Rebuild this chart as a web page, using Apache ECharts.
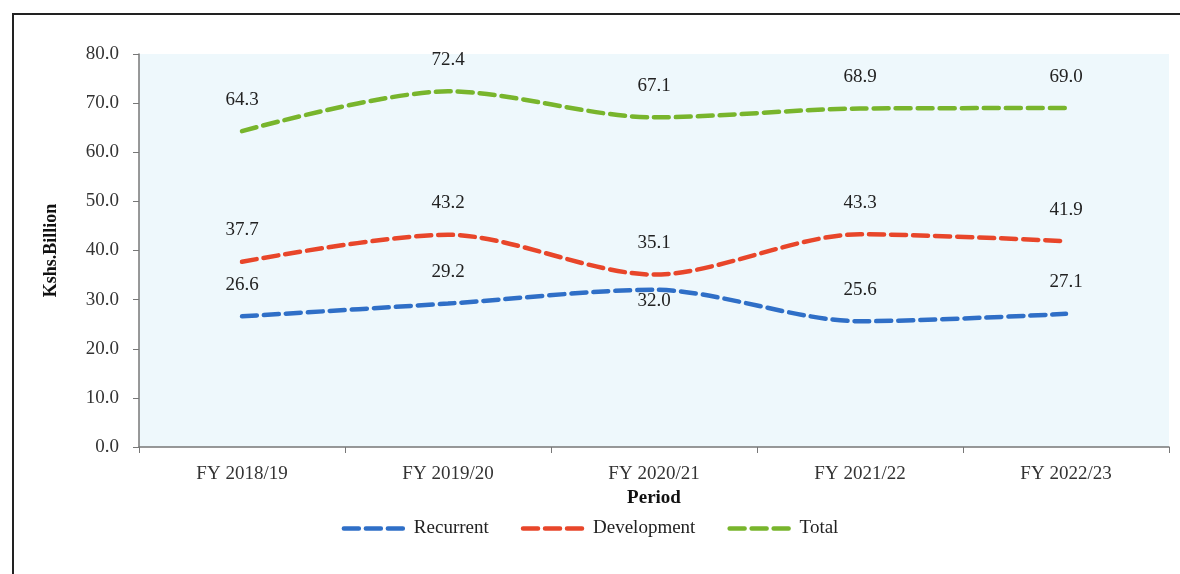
<!DOCTYPE html>
<html>
<head>
<meta charset="utf-8">
<script src="https://cdn.jsdelivr.net/npm/echarts@6/dist/echarts.min.js"></script>
<style>
  html, body { margin: 0; padding: 0; background: #fff; }
  #chart { width: 1180px; height: 574px; }
</style>
</head>
<body>
<div id="chart"></div>
<script>
var periods = ["FY 2018/19", "FY 2019/20", "FY 2020/21", "FY 2021/22", "FY 2022/23"];
var recurrent = [26.6, 29.2, 32.0, 25.6, 27.1];
var development = [37.7, 43.2, 35.1, 43.3, 41.9];
var total = [64.3, 72.4, 67.1, 68.9, 69.0];

var serifFont = "'Liberation Serif', 'DejaVu Serif', serif";

// the 2020/21 recurrent label sits under its point in the original
function withLabels(values, belowIdx) {
  return values.map(function (v, i) {
    if (i === belowIdx) {
      return { value: v, label: { position: "bottom", distance: 2 } };
    }
    return v;
  });
}

function lineSeries(name, values, color, belowIdx) {
  return {
    name: name,
    type: "line",
    data: withLabels(values, belowIdx),
    smooth: 0.3,
    symbol: "circle",
    symbolSize: 0,
    showSymbol: true,
    lineStyle: { color: color, width: 4.5, type: [15, 7], cap: "round" },
    itemStyle: { color: color },
    label: {
      show: true,
      position: "top",
      distance: 22,
      color: "#222",
      fontFamily: serifFont,
      fontSize: 19,
      formatter: function (p) { return Number(p.value).toFixed(1); }
    }
  };
}

var myChart = echarts.init(document.getElementById("chart"));
myChart.setOption({
  backgroundColor: "#ffffff",
  animation: false,
  graphic: [
    {
      type: "rect",
      shape: { x: 13, y: 14, width: 1200, height: 600 },
      style: { fill: "none", stroke: "#222", lineWidth: 2 }
    },
    {
      type: "rect",
      z: -1,
      shape: { x: 139, y: 54, width: 1030, height: 393 },
      style: { fill: "#eef8fc" }
    }
  ],
  grid: { left: 139, right: 11, top: 54, bottom: 127 },
  legend: {
    top: 514,
    left: "center",
    itemWidth: 65,
    itemHeight: 10,
    itemGap: 32,
    itemStyle: { opacity: 0 },
    lineStyle: { width: 4.5, type: [15, 7], cap: "round" },
    textStyle: { fontFamily: serifFont, fontSize: 19, color: "#222" },
    data: ["Recurrent", "Development", "Total"]
  },
  xAxis: {
    type: "category",
    data: periods,
    boundaryGap: true,
    name: "Period",
    nameLocation: "middle",
    nameGap: 40,
    nameTextStyle: { fontFamily: serifFont, fontSize: 19, fontWeight: "bold", color: "#111" },
    axisLine: { lineStyle: { color: "#777", width: 1.5 } },
    axisTick: { show: true, length: 6, lineStyle: { color: "#777" } },
    axisLabel: { fontFamily: serifFont, fontSize: 19, color: "#333", margin: 18 }
  },
  yAxis: {
    type: "value",
    min: 0,
    max: 80,
    interval: 10,
    name: "Kshs.Billion",
    nameLocation: "middle",
    nameGap: 79,
    nameTextStyle: { fontFamily: serifFont, fontSize: 18, fontWeight: "bold", color: "#111" },
    axisLine: { show: true, lineStyle: { color: "#777", width: 1.5 } },
    axisTick: { show: true, length: 6, lineStyle: { color: "#777" } },
    splitLine: { show: false },
    axisLabel: {
      fontFamily: serifFont,
      fontSize: 19,
      color: "#333",
      margin: 20,
      formatter: function (v) { return v.toFixed(1); }
    }
  },
  series: [
    lineSeries("Recurrent", recurrent, "#2f6fc7", 2),
    lineSeries("Development", development, "#e8462a", -1),
    lineSeries("Total", total, "#78b52c", -1)
  ]
});
</script>
</body>
</html>
